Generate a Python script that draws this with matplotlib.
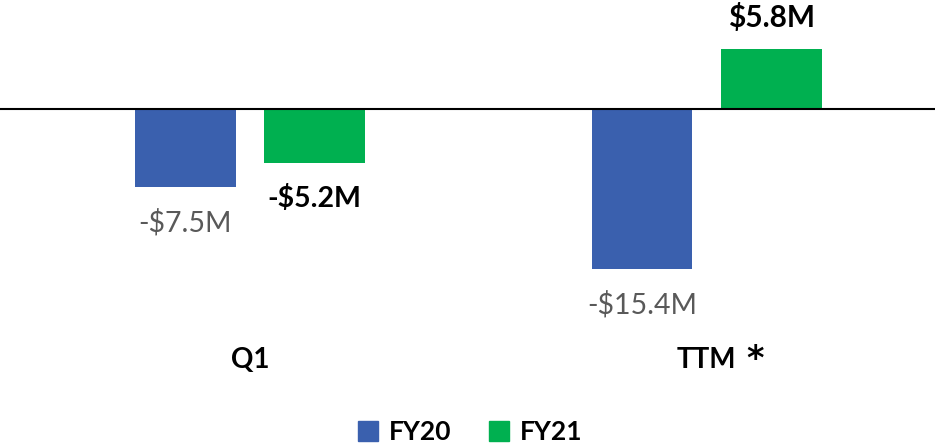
import matplotlib
matplotlib.use("Agg")
import matplotlib.pyplot as plt
from matplotlib.patches import Patch

plt.rcParams['font.family'] = ['Lato', 'DejaVu Sans']

categories = ["Q1", "TTM *"]
series_names = ["FY20", "FY21"]
fy20 = [-7.5, -15.4]
fy21 = [-5.2, 5.8]
fy20_labels = ["-$7.5M", "-$15.4M"]
fy21_labels = ["-$5.2M", "$5.8M"]

blue = "#3A60AE"
green = "#00B050"
grey = "#595959"

fig = plt.figure(figsize=(9.35, 4.48), dpi=100)
ax = fig.add_axes([0, 0, 1, 1])
ax.set_xlim(-0.5476, 1.5005)
ax.set_ylim(-32.6, 10.48)
ax.axis("off")

w = 0.2212
off = 0.1413
x = list(range(len(categories)))

ax.bar([i - off for i in x], fy20, width=w, color=blue, zorder=2)
ax.bar([i + off for i in x], fy21, width=w, color=green, zorder=2)
ax.axhline(0, color="black", lw=1.5, zorder=3)

for i, v in enumerate(fy20):
    ax.text(i - off, v - 3.4, fy20_labels[i], ha="center", va="center",
            fontsize=20.5, color=grey)
for i, v in enumerate(fy21):
    if v < 0:
        ax.text(i + off, v - 3.4, fy21_labels[i], ha="center", va="center",
                fontsize=20.5, color="black", fontweight="bold")
    else:
        ax.text(i + off, v + 3.0, fy21_labels[i], ha="center", va="center",
                fontsize=21.5, color="black", fontweight="bold")

for i, c in enumerate(categories):
    if c.endswith(" *"):
        base = c[:-2]
        t = ax.text(i, -24.1, base, ha="center", va="center", fontsize=20,
                    fontweight="bold", color="black")
        fig.canvas.draw()
        bb = t.get_window_extent()
        x_end = ax.transData.inverted().transform((bb.x1, 0))[0]
        ax.text(x_end + 0.022, -24.1, "*", ha="left", va="center",
                fontsize=24, fontweight="bold", color="black",
                family="DejaVu Sans")
    else:
        ax.text(i, -24.1, c, ha="center", va="center", fontsize=20,
                fontweight="bold", color="black")

handles = [Patch(color=blue), Patch(color=green)]
leg = fig.legend(handles, series_names, loc="center", bbox_to_anchor=(0.503, 0.035),
                 ncol=2, frameon=False, handlelength=0.75, handleheight=0.75,
                 handletextpad=0.4, columnspacing=1.45,
                 prop={"size": 19, "weight": "bold"})

fig.savefig("out.png", dpi=100)
